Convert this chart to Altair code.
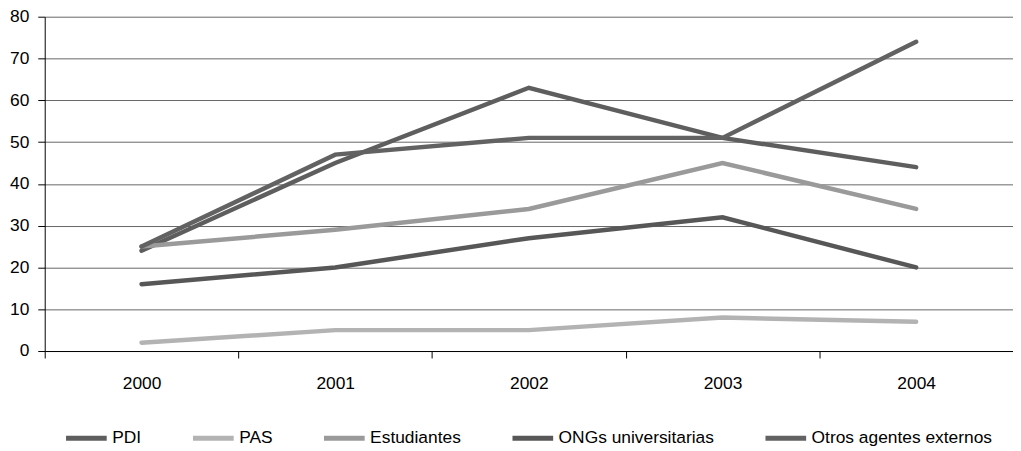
import altair as alt
import pandas as pd

years = ["2000", "2001", "2002", "2003", "2004"]
series = ["PDI", "PAS", "Estudiantes", "ONGs universitarias", "Otros agentes externos"]
pdi = [24, 45, 63, 51, 44]
pas = [2, 5, 5, 8, 7]
estudiantes = [25, 29, 34, 45, 34]
ongs = [16, 20, 27, 32, 20]
otros = [25, 47, 51, 51, 74]
colors = ["#5e5e5e", "#b3b3b3", "#9a9a9a", "#575757", "#626262"]

values = [pdi, pas, estudiantes, ongs, otros]
rows = []
for name, vals in zip(series, values):
    for y, v in zip(years, vals):
        rows.append({"Año": y, "Serie": name, "Valor": v})
df = pd.DataFrame(rows)

FONT = "Liberation Sans, Arial, sans-serif"
FS = 17.5

chart = alt.Chart(df).mark_line(strokeWidth=4.5, strokeCap="round", strokeJoin="miter").encode(
    x=alt.X("Año:O", sort=years, bandPosition=0.5,
            scale=alt.Scale(type="band", paddingInner=0, paddingOuter=0),
            axis=alt.Axis(title=None, labelAngle=0, tickBand="extent", grid=False,
                          domainColor="#000", tickColor="#000", tickSize=7,
                          labelPadding=17, labelFontSize=FS, labelFont=FONT,
                          labelColor="#000")),
    y=alt.Y("Valor:Q", scale=alt.Scale(domain=[0, 80], nice=False),
            axis=alt.Axis(title=None, values=list(range(0, 81, 10)), grid=True,
                          gridColor="#666", gridWidth=1, domainColor="#000",
                          tickColor="#000", tickSize=7, labelPadding=9,
                          labelFontSize=FS, labelFont=FONT, labelColor="#000")),
    color=alt.Color("Serie:N", sort=series,
                    scale=alt.Scale(domain=series, range=colors),
                    legend=alt.Legend(title=None, orient="none", direction="horizontal",
                                      legendX=19, legendY=402,
                                      symbolType="stroke", symbolSize=1681,
                                      symbolStrokeWidth=5, labelOffset=3,
                                      columnPadding=41, labelFontSize=FS,
                                      labelLimit=0,
                                      labelFont=FONT, labelColor="#000")),
    order=alt.Order("Serie:N"),
).properties(
    width=976, height=337,
    autosize=alt.AutoSizeParams(type="none"),
    padding={"left": 37, "top": 7, "right": 0, "bottom": 99},
).configure_view(stroke=None)

chart.save("out.html", embed_options={"renderer": "svg", "actions": False})
